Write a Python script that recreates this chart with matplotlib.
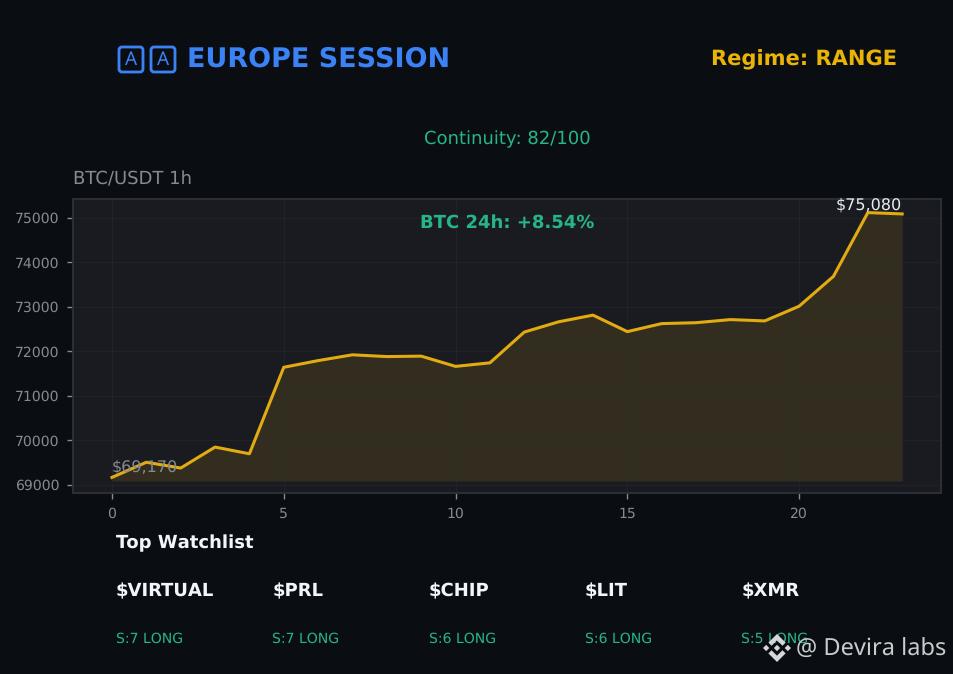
import matplotlib
matplotlib.use("Agg")
import matplotlib.pyplot as plt
from matplotlib.patches import Polygon, FancyBboxPatch

plt.rcParams["font.family"] = ["DejaVu Sans", "Noto Emoji"]
plt.rcParams["text.hinting"] = "none"
plt.rcParams["text.hinting_factor"] = 1

## degerler
hours = list(range(24))
btc_close = [69170, 69510, 69380, 69850, 69700, 71640, 71790, 71920, 71880, 71890,
             71660, 71740, 72430, 72660, 72810, 72440, 72620, 72640, 72710, 72680,
             73010, 73680, 75110, 75080]
fill_base = 69090
watch_symbols = ["$VIRTUAL", "$PRL", "$CHIP", "$LIT", "$XMR"]
watch_scores = ["S:7 LONG", "S:7 LONG", "S:6 LONG", "S:6 LONG", "S:5 LONG"]
x_ticks = [0, 5, 10, 15, 20]
y_ticks = [69000, 70000, 71000, 72000, 73000, 74000, 75000]

BG = "#0a0e12"
GREEN = "#26b589"
GOLD = "#e2ab12"
BLUE = "#3b82f6"
LOGO = "#d4d6d9"
GREY = "#848b94"
W, H = 954, 674

fig = plt.figure(figsize=(W / 100, H / 100), dpi=100, facecolor=BG)

def fx(p):
    return p / W

def fy(p):
    return 1 - p / H

ax = fig.add_axes([fx(73), fy(493), (941 - 73) / W, (493 - 199) / H], facecolor="#1a1b21")
ax.fill_between(hours, btc_close, fill_base, color=GOLD, alpha=0.13, lw=0)
ax.plot(hours, btc_close, color=GOLD, lw=2.2)
ax.set_xlim(-1.135, 24.13)
ax.set_ylim(68820, 75415)
ax.set_xticks(x_ticks)
ax.set_yticks(y_ticks)
ax.tick_params(colors=GREY, labelsize=9.8, length=4, width=1, pad=6)
ax.grid(True, color="#2a2d34", lw=0.5, alpha=0.6)
for s in ax.spines.values():
    s.set_color("#2a2f37")
    s.set_linewidth(1.5)

ax.text(0, 69215, "$69,170", color=GREY, fontsize=11.5, ha="left", va="bottom")
ax.text(23, 75100, "$75,080", color="#e6edf3", fontsize=11.5, ha="right", va="bottom")

## bayrak kutulari
for bx in [118, 150]:
    fig.add_artist(FancyBboxPatch((bx + 2, 674 - 71), 22, 23, boxstyle="round,pad=1,rounding_size=3",
                                  transform=None, fc="none", ec=BLUE, lw=2))
    fig.text(fx(bx + 13), fy(60), "\U0001F1E6", color=BLUE, fontsize=14, ha="center", va="center")

fig.text(fx(187), fy(59), "EUROPE SESSION", color=BLUE, fontsize=19.3, fontweight="bold", va="center")
fig.text(fx(897), fy(60), "Regime: RANGE", color="#eab308", fontsize=14.8, fontweight="bold", ha="right", va="center")
fig.text(fx(507), fy(139), "Continuity: 82/100", color=GREEN, fontsize=12.7, ha="center", va="center")
fig.text(fx(73), fy(179), "BTC/USDT 1h", color=GREY, fontsize=12.7, va="center")
fig.text(fx(507), fy(223), "BTC 24h: +8.54%", color=GREEN, fontsize=13.1, fontweight="bold", ha="center", va="center")

fig.text(fx(116), fy(543), "Top Watchlist", color="#f0f6fc", fontsize=13, fontweight="bold", va="center")
for i in range(len(watch_symbols)):
    x = 116 + i * 156.3
    fig.text(fx(x), fy(591), watch_symbols[i], color="#f0f6fc", fontsize=13.2, fontweight="bold", va="center")
    fig.text(fx(x), fy(639), watch_scores[i], color=GREEN, fontsize=10, va="center")

## binance logosu
def logo_shape(pts, cx=777, cy=648, k=0.2212):
    return Polygon([(fx(cx + a * k), fy(cy + b * k)) for a, b in pts], closed=True,
                   transform=fig.transFigure, fc=LOGO, ec="none", zorder=5)

chevron = [(-24.6, -10.1), (0, -34.7), (24.6, -10.1), (38.9, -24.4), (0, -63.3), (-38.9, -24.4)]
fig.add_artist(logo_shape(chevron))
fig.add_artist(logo_shape([(a, -b) for a, b in chevron]))
for dx in [-49, 0, 49]:
    fig.add_artist(logo_shape([(dx - 14.3, 0), (dx, -14.3), (dx + 14.3, 0), (dx, 14.3)]))
fig.text(fx(796), fy(650), "@ Devira labs", color="#c9cbcf", fontsize=17, va="center", family="Noto Sans", zorder=5)

fig.savefig("out.png", dpi=100, facecolor=BG)
